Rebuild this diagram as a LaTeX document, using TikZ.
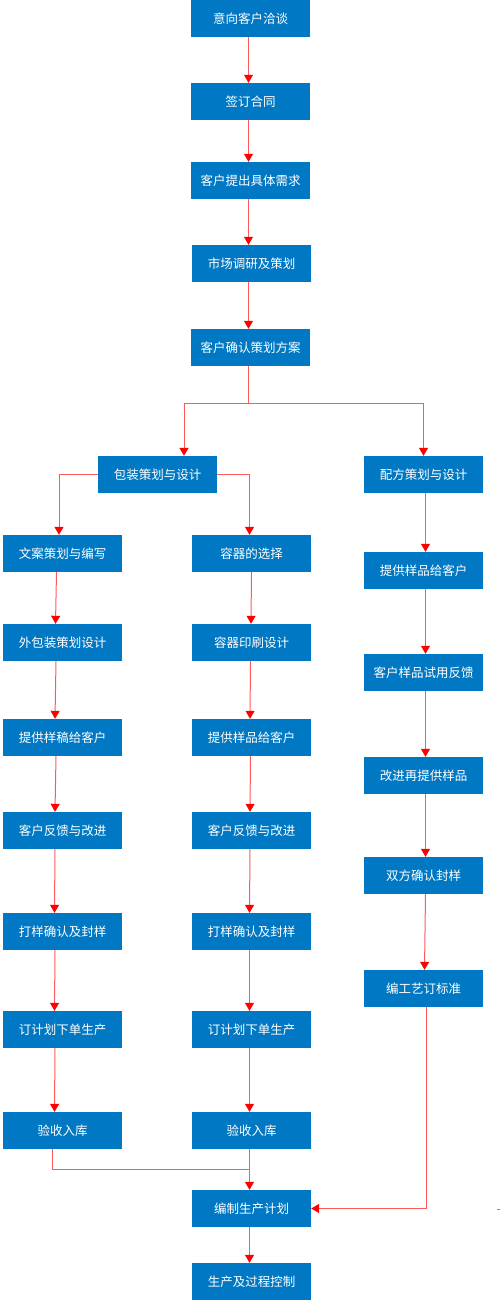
\documentclass[tikz,border=0pt]{standalone}
\usepackage{fontspec}
\newfontfamily\cjk{Noto Sans CJK SC}
\usetikzlibrary{arrows.meta}
\definecolor{boxblue}{RGB}{0,120,195}
\definecolor{linered}{RGB}{255,90,90}
\tikzset{
  box/.style={fill=boxblue, text=white, minimum width=119pt, minimum height=37pt,
    inner sep=0pt, anchor=center, font=\cjk\fontsize{12.5}{14}\selectfont},
  conn/.style={draw=linered, line width=1pt},
  arr/.style={conn, -{Triangle[length=8pt,width=9pt,color=red,fill=red]}}
}
\begin{document}
\begin{tikzpicture}[x=1pt,y=-1pt]
\useasboundingbox (0,0) rectangle (500,1300);
% main column
\node[box] (n1) at (250.5,18.5) {意向客户洽谈};
\node[box] (n2) at (250.5,101.5) {签订合同};
\node[box] (n3) at (250.5,180.5) {客户提出具体需求};
\node[box] (n4) at (251.5,263.5) {市场调研及策划};
\node[box] (n5) at (250.5,347.5) {客户确认策划方案};
\node[box] (pk) at (157.5,474.5) {包装策划与设计};
\node[box] (pf) at (423.5,474.5) {配方策划与设计};
% left column
\node[box] (L1) at (62.5,553.5) {文案策划与编写};
\node[box] (L2) at (62.5,642.5) {外包装策划设计};
\node[box] (L3) at (62.5,737.5) {提供样稿给客户};
\node[box] (L4) at (62.5,830.5) {客户反馈与改进};
\node[box] (L5) at (62.5,931.5) {打样确认及封样};
\node[box] (L6) at (62.5,1029.5) {订计划下单生产};
\node[box] (L7) at (62.5,1130.5) {验收入库};
% middle column
\node[box] (M1) at (251.5,553.5) {容器的选择};
\node[box] (M2) at (251.5,642.5) {容器印刷设计};
\node[box] (M3) at (251.5,737.5) {提供样品给客户};
\node[box] (M4) at (251.5,830.5) {客户反馈与改进};
\node[box] (M5) at (251.5,931.5) {打样确认及封样};
\node[box] (M6) at (251.5,1029.5) {订计划下单生产};
\node[box] (M7) at (251.5,1130.5) {验收入库};
% right column
\node[box] (R1) at (423.5,570.5) {提供样品给客户};
\node[box] (R2) at (423.5,672.5) {客户样品试用反馈};
\node[box] (R3) at (423.5,775.5) {改进再提供样品};
\node[box] (R4) at (423.5,875.5) {双方确认封样};
\node[box] (R5) at (423.5,988.5) {编工艺订标准};
% bottom
\node[box] (bz) at (251.5,1208.5) {编制生产计划};
\node[box] (sc) at (251.5,1281.5) {生产及过程控制};

% main connectors
\draw[arr] ([xshift=-2pt]n1.south) -- ([xshift=-2pt]n2.north);
\draw[arr] ([xshift=-2pt]n2.south) -- ([xshift=-2pt]n3.north);
\draw[arr] ([xshift=-2pt]n3.south) -- ([xshift=-3pt]n4.north);
\draw[arr] ([xshift=-3pt]n4.south) -- ([xshift=-2pt]n5.north);
\coordinate (b5) at (248.5,403);
\draw[conn] ([xshift=-2pt]n5.south) -- (b5);
\draw[arr] (b5) -| ([xshift=26.5pt]pk.north);
\draw[arr] (b5) -| (pf.north);
% package branches
\draw[arr] (pk.west) -| ([xshift=-3.5pt]L1.north);
\draw[arr] (pk.east) -| ([xshift=-2pt]M1.north);
% left column
\draw[arr] ([xshift=-6pt]L1.south) -- ([xshift=-7pt]L2.north);
\draw[arr] ([xshift=-6.5pt]L2.south) -- ([xshift=-7.5pt]L3.north);
\draw[arr] ([xshift=-6.5pt]L3.south) -- ([xshift=-7.5pt]L4.north);
\draw[arr] ([xshift=-7.5pt]L4.south) -- ([xshift=-8pt]L5.north);
\draw[arr] ([xshift=-7.5pt]L5.south) -- ([xshift=-8pt]L6.north);
\draw[arr] ([xshift=-7.5pt]L6.south) -- ([xshift=-8pt]L7.north);
% middle column
\draw[arr] ([xshift=0pt]M1.south) -- ([xshift=-0.5pt]M2.north);
\draw[arr] ([xshift=-1pt]M2.south) -- ([xshift=-1.5pt]M3.north);
\draw[arr] ([xshift=-1pt]M3.south) -- ([xshift=-1.5pt]M4.north);
\draw[arr] ([xshift=-1.5pt]M4.south) -- ([xshift=-2pt]M5.north);
\draw[arr] ([xshift=-2pt]M5.south) -- ([xshift=-2pt]M6.north);
\draw[arr] ([xshift=-2pt]M6.south) -- ([xshift=-2pt]M7.north);
% right column
\draw[arr] ([xshift=2pt]pf.south) -- ([xshift=2pt]R1.north);
\draw[arr] ([xshift=2pt]R1.south) -- ([xshift=2pt]R2.north);
\draw[arr] ([xshift=2pt]R2.south) -- ([xshift=2pt]R3.north);
\draw[arr] ([xshift=2pt]R3.south) -- ([xshift=2pt]R4.north);
\draw[arr] ([xshift=2pt]R4.south) -- ([xshift=1pt]R5.north);
% bottom
\coordinate (j) at (249.5,1169);
\draw[conn] ([xshift=-10pt]L7.south) |- (j);
\draw[arr] ([xshift=-2pt]M7.south) -- ([xshift=-2pt]bz.north);
\draw[arr] ([xshift=2.5pt]R5.south) |- (bz.east);
\draw[arr] ([xshift=-2pt]bz.south) -- ([xshift=-2pt]sc.north);
% stray mark at the right edge
\coordinate (m1) at (497,1209);
\coordinate (m2) at (500,1209);
\draw[conn] (m1) -- (m2);
\end{tikzpicture}
\end{document}
